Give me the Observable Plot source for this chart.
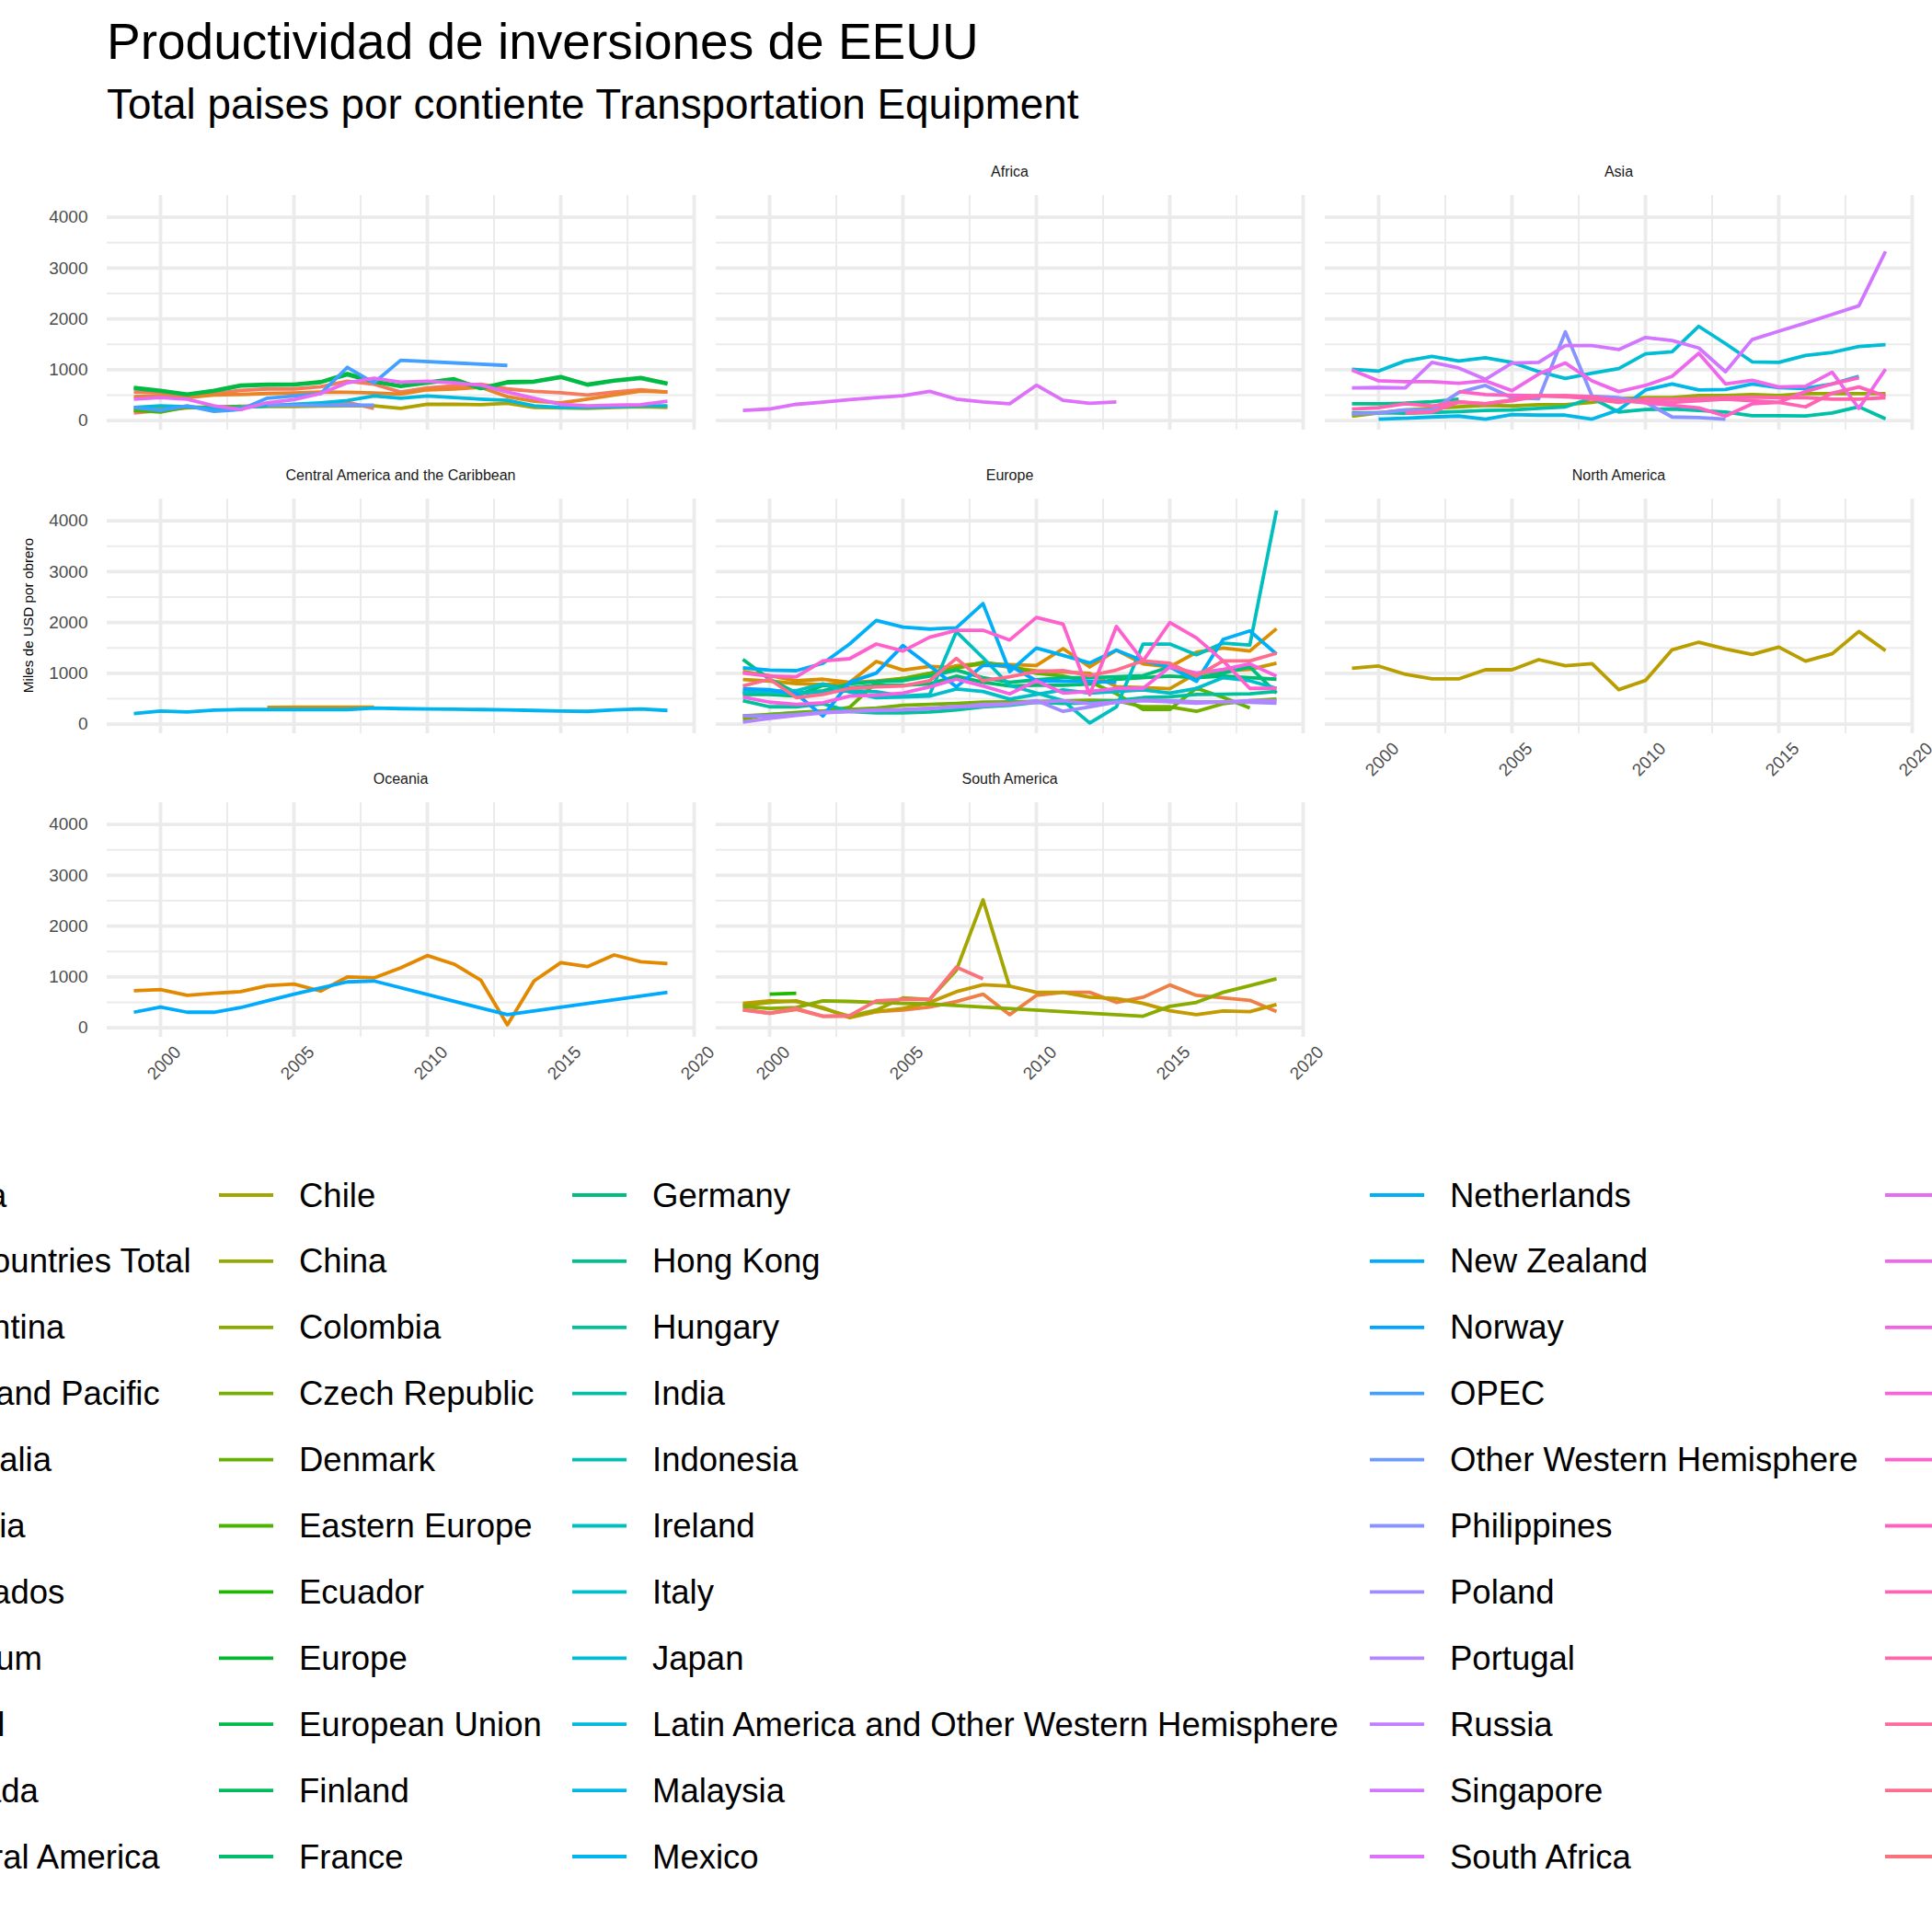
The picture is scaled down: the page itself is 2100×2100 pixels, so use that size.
<!DOCTYPE html>
<html>
<head>
<meta charset="utf-8">
<script src="https://cdn.jsdelivr.net/npm/d3@7"></script>
<script src="https://cdn.jsdelivr.net/npm/@observablehq/plot@0.6"></script>
<style>
  html, body { margin: 0; padding: 0; background: #fff; }
  #root { position: relative; width: 2100px; height: 2100px; overflow: hidden; background: #fff;
          font-family: "Liberation Sans", Arial, sans-serif; }
  .panel { position: absolute; }
  .panel svg { overflow: visible; }
</style>
</head>
<body>
<div id="root"></div>
<script>
// ---------------- DATA ----------------
const years = [1999, 2000, 2001, 2002, 2003, 2004, 2005, 2006, 2007, 2008, 2009, 2010, 2011, 2012, 2013, 2014, 2015, 2016, 2017, 2018, 2019];

const countryNames = [
  "Africa", "All Countries Total", "Argentina", "Asia and Pacific", "Australia", "Austria", "Barbados", "Belgium", "Brazil", "Canada", "Central America",
  "Chile", "China", "Colombia", "Czech Republic", "Denmark", "Eastern Europe", "Ecuador", "Europe", "European Union", "Finland", "France",
  "Germany", "Hong Kong", "Hungary", "India", "Indonesia", "Ireland", "Italy", "Japan", "Latin America and Other Western Hemisphere", "Malaysia", "Mexico",
  "Netherlands", "New Zealand", "Norway", "OPEC", "Other Western Hemisphere", "Philippines", "Poland", "Portugal", "Russia", "Singapore", "South Africa",
  "South America", "South Korea", "Spain", "Sweden", "Switzerland", "Taiwan", "Thailand", "Turkey", "United Arab Emirates", "United Kingdom", "Venezuela"
];

const panelTitles = ["", "Africa", "Asia", "Central America and the Caribbean", "Europe", "North America", "Oceania", "South America"];
const yTicks = [0, 1000, 2000, 3000, 4000];
const yMinor = [500, 1500, 2500, 3500];
const xTicks = [2000, 2005, 2010, 2015, 2020];
const xMinor = [2002.5, 2007.5, 2012.5, 2017.5];

const _ = null;
// aggregates (blank panel)
const aggAfrica       = [150, 200, 250, 270, 280, 300, 310, 330, 360, 240, _, _, _, _, _, _, _, _, _, _, _];
const aggAllCountries = [563, 545, 473, 533, 594, 624, 624, 667, 776, 715, 563, 642, 685, 715, 624, 575, 551, 503, 563, 606, 563];
const aggAsiaPacific  = [473, 485, 455, 503, 515, 533, 545, 563, 557, 545, 521, 606, 624, 655, 473, 382, 352, 424, 503, 582, 563];
const aggCentralAm    = [200, 240, 260, 250, 270, 280, 280, 285, 290, 291, 242, 321, 321, 315, 340, 260, 250, 242, 260, 273, 260];
const aggEasternEu    = [200, 170, 270, 260, 280, _, _, _, _, _, _, _, _, _, _, _, _, _, _, _, _];
const aggEurope       = [655, 594, 521, 594, 697, 715, 715, 764, 927, 776, 685, 758, 824, 642, 764, 776, 867, 715, 794, 848, 733];
const aggEU           = [630, 580, 510, 580, 680, 700, 705, 750, 900, 760, 670, 740, 800, 630, 745, 760, 850, 700, 780, 830, 720];
const aggLatAm        = [260, 291, 273, 230, 260, 291, 321, 352, 394, 485, 442, 485, 455, 424, 400, 291, 260, 260, 273, 291, 291];
const aggOPEC         = [260, 200, 291, 182, 218, 442, 485, 533, 1048, 745, 1188, _, _, _, 1085, _, _, _, _, _, _];
const aggOtherWH      = [_, _, _, _, _, 300, 300, 300, 303, 303, _, _, _, _, _, _, _, _, _, _, _];
const aggSouthAm      = [424, 455, 424, 291, 218, 352, 412, 533, 745, 836, 758, 776, 745, 697, 563, 442, 321, 291, 303, 315, 382];
// Africa
const southAfrica     = [200, 230, 321, 364, 412, 455, 491, 576, 424, 370, 333, 697, 400, 340, 370, _, _, _, _, _, _];
// Asia
const china           = [90, 151, 211, 241, 271, 301, 289, 313, 313, 361, 434, 452, 452, 494, 494, 512, 494, 530, 530, 530, 530];
const hongKong        = [331, 331, 343, 373, 422, _, _, _, _, _, _, _, _, _, _, _, _, _, _, _, _];
const india           = [150, 155, 145, 160, 180, 200, 211, 240, 271, 442, 170, 218, 230, 200, 170, 97, 97, 91, 152, 273, 36];
const japan           = [1012, 976, 1175, 1265, 1175, 1235, 1145, 964, 831, 934, 1024, 1313, 1355, 1855, 1515, 1157, 1145, 1283, 1343, 1458, 1494];
const malaysia        = [_, 30, 48, 72, 90, 30, 120, 108, 108, 30, 211, 602, 723, 602, 614, 723, 651, 633, 723, 873, _];
const philippines     = [133, 151, 211, 211, 554, 693, 452, 434, 1745, 482, 452, 361, 72, 60, 30, _, _, _, _, _, _];
const singapore       = [645, 651, 645, 1145, 1036, 813, 1133, 1145, 1476, 1476, 1398, 1636, 1576, 1430, 964, 1594, 1760, 1920, 2090, 2260, 3330];
const southKorea      = [994, 783, 765, 765, 735, 783, 590, 916, 1133, 783, 572, 693, 873, 1325, 723, 795, 663, 675, 952, 241, 1012];
const taiwan          = [_, _, _, _, 572, 512, 500, 490, 470, 452, 400, 350, 300, 250, 90, 331, 361, 572, 723, 843, _];
const thailand        = [229, 253, 331, 289, 373, 331, 392, 482, 494, 470, 392, 392, 361, 392, 422, 392, 361, 271, 542, 663, 482];
const turkey          = [_, _, 151, 170, 361, 331, 410, 494, 482, 422, 361, 422, 422, 434, 452, 464, 452, 452, 422, 422, 452];
// Central America and the Caribbean
const barbados        = [_, _, _, _, _, 330, 335, 337, 337, 335, _, _, _, _, _, _, _, _, _, _, _];
const mexico          = [211, 259, 241, 277, 289, 289, 289, 289, 289, 319, 307, 301, 295, 289, 283, 271, 259, 253, 283, 301, 271];
// Europe
const austria         = [1036, 958, 855, 886, 825, 1235, 1066, 1139, 1114, 1187, 1175, 1157, 1488, 1127, 1458, 1187, 1127, 1416, 1500, 1440, 1880];
const belgium         = [880, 850, 800, 780, 820, 850, 900, 1000, 1150, 1200, 1120, 1050, 1030, 1000, 740, 720, 700, 1000, 1050, 1080, 1200];
const czechRepublic   = [102, 193, 230, 260, 290, 320, 373, 390, 410, 434, 440, 450, 460, 470, 464, 343, 343, 253, 404, 464, 494];
const denmark         = [163, 190, 220, 253, 330, 825, 900, 1000, 1100, 1217, 1150, 1000, 950, 830, 600, 290, 290, 710, 530, 320, _];
const france          = [584, 584, 554, 765, 717, 765, 765, 795, 946, 825, 753, 765, 765, 790, 886, 916, 946, 916, 946, 916, 886];
const germany         = [1277, 886, 614, 657, 795, 837, 855, 946, 1066, 916, 825, 873, 916, 916, 934, 958, 1127, 916, 1006, 1127, 614];
const hungary         = [464, 343, 343, 404, 253, 223, 223, 240, 283, 343, 373, 434, 410, 420, 464, 524, 540, 584, 590, 600, 645];
const ireland         = [645, 620, 600, 640, 660, 640, 554, 584, 1819, 1307, 765, 614, 464, 24, 343, 1578, 1578, 1367, 1596, 1560, 4205];
const italy           = [614, 645, 660, 795, 633, 524, 536, 554, 693, 645, 494, 584, 675, 614, 645, 675, 614, 705, 916, 855, 705];
const netherlands     = [1108, 1066, 1054, 1199, 1578, 2042, 1910, 1873, 1898, 2373, 1036, 1500, 1355, 1205, 1458, 1247, 1127, 843, 1669, 1837, 1380];
const norway          = [700, 680, 600, 163, 825, 1006, 1548, 1150, 735, 1157, 1157, 855, 843, 843, 825, _, _, _, _, _, _];
const poland          = [163, 163, 193, 235, 253, 283, 290, 313, 343, 361, 392, 464, 253, 343, 434, 476, 464, 440, 440, 430, 416];
const portugal        = [42, 114, 175, 223, 253, 271, 283, 307, 343, 392, 404, 434, 464, 404, 434, 464, 440, 416, 440, 464, 464];
const spain           = [536, 434, 392, 422, 554, 572, 614, 735, 886, 753, 596, 855, 614, 645, 705, 705, 1127, 1006, 1078, 1187, 946];
const switzerland     = [1006, 946, 934, 1247, 1289, 1578, 1440, 1711, 1849, 1849, 1657, 2102, 1970, 584, 1922, 1247, 2000, 1699, 1247, 705, 705];
const unitedKingdom   = [753, 886, 524, 584, 705, 735, 753, 855, 1295, 855, 934, 1036, 1054, 958, 1066, 1247, 1199, 946, 1247, 1247, 1398];
// North America
const canada          = [1102, 1145, 982, 892, 892, 1072, 1072, 1271, 1151, 1193, 681, 861, 1464, 1614, 1482, 1373, 1518, 1241, 1386, 1825, 1446];
// Oceania
const australia       = [729, 753, 639, 681, 711, 831, 861, 723, 1000, 982, 1181, 1422, 1253, 940, 60, 922, 1283, 1205, 1434, 1301, 1265];
const newZealand      = [307, 410, 307, 307, 398, 530, 663, 783, 904, 922, _, _, _, _, 259, _, _, _, _, _, 699];
// South America
const argentina       = [361, 289, 361, 229, 229, 319, 349, 410, 518, 663, 259, 639, 699, 699, 500, 602, 843, 639, 590, 542, 319];
const brazil          = [482, 530, 518, 398, 199, 319, 380, 500, 711, 849, 819, 699, 699, 602, 578, 482, 337, 259, 331, 319, 458];
const chile           = [440, 500, 530, 380, 229, 349, 590, 560, 1133, 2518, 800, _, _, _, _, _, _, _, _, _, _];
const colombia        = [420, 380, 400, 530, 520, 500, 482, 470, _, _, _, _, _, _, _, 229, 422, 500, 699, 831, 964];
const ecuador         = [_, 663, 681, _, _, _, _, _, _, _, _, _, _, _, _, _, _, _, _, _, _];
const venezuela       = [349, 289, 380, 229, 241, 530, 560, 560, 1193, 964, _, _, _, _, _, _, _, _, _, _, _];

// [continent, country, values]
const seriesTable = [
  ["", "Africa", aggAfrica], ["", "All Countries Total", aggAllCountries], ["", "Asia and Pacific", aggAsiaPacific],
  ["", "Central America", aggCentralAm], ["", "Eastern Europe", aggEasternEu], ["", "Europe", aggEurope],
  ["", "European Union", aggEU], ["", "Latin America and Other Western Hemisphere", aggLatAm], ["", "OPEC", aggOPEC],
  ["", "Other Western Hemisphere", aggOtherWH], ["", "South America", aggSouthAm],
  ["Africa", "South Africa", southAfrica],
  ["Asia", "China", china], ["Asia", "Hong Kong", hongKong], ["Asia", "India", india], ["Asia", "Japan", japan],
  ["Asia", "Malaysia", malaysia], ["Asia", "Philippines", philippines], ["Asia", "Singapore", singapore],
  ["Asia", "South Korea", southKorea], ["Asia", "Taiwan", taiwan], ["Asia", "Thailand", thailand], ["Asia", "Turkey", turkey],
  ["Central America and the Caribbean", "Barbados", barbados], ["Central America and the Caribbean", "Mexico", mexico],
  ["Europe", "Austria", austria], ["Europe", "Belgium", belgium], ["Europe", "Czech Republic", czechRepublic],
  ["Europe", "Denmark", denmark], ["Europe", "France", france], ["Europe", "Germany", germany], ["Europe", "Hungary", hungary],
  ["Europe", "Ireland", ireland], ["Europe", "Italy", italy], ["Europe", "Netherlands", netherlands], ["Europe", "Norway", norway],
  ["Europe", "Poland", poland], ["Europe", "Portugal", portugal], ["Europe", "Spain", spain], ["Europe", "Switzerland", switzerland],
  ["Europe", "United Kingdom", unitedKingdom],
  ["North America", "Canada", canada],
  ["Oceania", "Australia", australia], ["Oceania", "New Zealand", newZealand],
  ["South America", "Argentina", argentina], ["South America", "Brazil", brazil], ["South America", "Chile", chile],
  ["South America", "Colombia", colombia], ["South America", "Ecuador", ecuador], ["South America", "Venezuela", venezuela]
];

// ---------------- COLORS (ggplot2 hue palette) ----------------
function hcl2hex(h, c, l) {
  const hr = h * Math.PI / 180;
  const U = c * Math.cos(hr), V = c * Math.sin(hr), L = l;
  const Y = 100 * (L > 7.999592 ? Math.pow((L + 16) / 116, 3) : L / 903.3);
  const u = U / (13 * L) + 0.1978398, v = V / (13 * L) + 0.4683363;
  const X = 9.0 * Y * u / (4 * v);
  const Z = -X / 3 - 5 * Y + 3 * Y / v;
  const g = t => t > 0.00304 ? 1.055 * Math.pow(t, 1 / 2.4) - 0.055 : 12.92 * t;
  const cl = t => Math.max(0, Math.min(1, t));
  const r = cl(g((3.240479 * X - 1.537150 * Y - 0.498535 * Z) / 100));
  const gg = cl(g((-0.969256 * X + 1.875992 * Y + 0.041556 * Z) / 100));
  const b = cl(g((0.055648 * X - 0.204043 * Y + 1.057311 * Z) / 100));
  return d3.rgb(r * 255, gg * 255, b * 255).formatHex();
}
const nCol = countryNames.length;
const palette = countryNames.map((_, i) => hcl2hex(15 + 360 * i / nCol, 100, 65));

// ---------------- TABLE ----------------
const rows = seriesTable.flatMap(([continent, country, vals]) =>
  vals.map((v, i) => v == null ? null : {continent, country, year: years[i], value: v}).filter(Boolean));

// ---------------- LAYOUT ----------------
const root = document.getElementById("root");
const FONT = "Liberation Sans, Arial, sans-serif";
const colLeft = [116, 778, 1440];
const rowTop = [212, 542, 872];
const PW = 638, PH = 255;
const layout = [
  {col: 0, row: 0, yAxis: true,  xAxis: false},
  {col: 1, row: 0, yAxis: false, xAxis: false},
  {col: 2, row: 0, yAxis: false, xAxis: false},
  {col: 0, row: 1, yAxis: true,  xAxis: false},
  {col: 1, row: 1, yAxis: false, xAxis: false},
  {col: 2, row: 1, yAxis: false, xAxis: true},
  {col: 0, row: 2, yAxis: true,  xAxis: true},
  {col: 1, row: 2, yAxis: false, xAxis: true}
];

// background svg: titles, axis title, legend
const W = 2100, H = 2100;
const bg = d3.create("svg").attr("width", W).attr("height", H)
  .style("position", "absolute").style("left", 0).style("top", 0)
  .style("font-family", FONT);
bg.append("text").attr("x", 116).attr("y", 64).attr("font-size", 55).attr("fill", "#000")
  .text("Productividad de inversiones de EEUU");
bg.append("text").attr("x", 116).attr("y", 129).attr("font-size", 45.8).attr("fill", "#000")
  .text("Total paises por contiente Transportation Equipment");
bg.append("text").attr("transform", "translate(30,669) rotate(-90)").attr("text-anchor", "middle")
  .attr("dominant-baseline", "central").attr("font-size", 15.3).attr("fill", "#000")
  .text("Miles de USD por obrero");

// legend (ggplot style, 11 rows per column; it is wider than the page and clipped at both sides as in the reference)
const legCols = [-173, 238, 622, 1489, 2049];
const legRow0 = 1299, legStep = 71.9;
countryNames.forEach((name, i) => {
  const c = Math.floor(i / 11), r = i % 11;
  const x = legCols[c], y = legRow0 + r * legStep;
  bg.append("line").attr("x1", x).attr("x2", x + 59).attr("y1", y).attr("y2", y)
    .attr("stroke", palette[i]).attr("stroke-width", 3.8);
  bg.append("text").attr("x", x + 87).attr("y", y).attr("dominant-baseline", "central")
    .attr("font-size", 36.5).attr("fill", "#000").text(name);
});
root.appendChild(bg.node());

// panels
panelTitles.forEach((title, k) => {
  const L = layout[k];
  const data = rows.filter(d => d.continent === title);
  const marks = [
    Plot.ruleY(yMinor, {stroke: "#EBEBEB", strokeWidth: 2}),
    Plot.ruleX(xMinor, {stroke: "#EBEBEB", strokeWidth: 2}),
    Plot.ruleY(yTicks, {stroke: "#EBEBEB", strokeWidth: 3.8}),
    Plot.ruleX(xTicks, {stroke: "#EBEBEB", strokeWidth: 3.8}),
    Plot.line(data, {x: "year", y: "value", z: "country", stroke: "country", strokeWidth: 3.8,
                     strokeLinejoin: "round", strokeLinecap: "butt"})
  ];
  if (title) marks.push(Plot.text([title], {text: d => d, frameAnchor: "top", dy: -26, lineAnchor: "middle",
                                             fontSize: 16, fill: "#1A1A1A"}));
  if (L.yAxis) marks.push(Plot.text(yTicks, {y: d => d, text: d => String(d), frameAnchor: "left",
                                             textAnchor: "end", dx: -21, lineAnchor: "middle", fontSize: 19, fill: "#4D4D4D"}));
  if (L.xAxis) marks.push(Plot.text(xTicks, {x: d => d, text: d => String(d), frameAnchor: "bottom",
                                             dy: 28, dx: 4, rotate: -45, textAnchor: "middle", lineAnchor: "middle",
                                             fontSize: 19, fill: "#4D4D4D"}));
  const svg = Plot.plot({
    width: PW, height: PH,
    marginTop: 0, marginRight: 0, marginBottom: 0, marginLeft: 0,
    x: {domain: [1998, 2020], axis: null},
    y: {domain: [-186, 4429], axis: null},
    color: {type: "ordinal", domain: countryNames, range: palette},
    style: {overflow: "visible", background: "transparent", fontFamily: FONT},
    marks
  });
  const wrap = document.createElement("div");
  wrap.className = "panel";
  wrap.style.left = colLeft[L.col] + "px";
  wrap.style.top = rowTop[L.row] + "px";
  wrap.style.width = PW + "px";
  wrap.style.height = PH + "px";
  wrap.appendChild(svg);
  root.appendChild(wrap);
});
</script>
</body>
</html>
